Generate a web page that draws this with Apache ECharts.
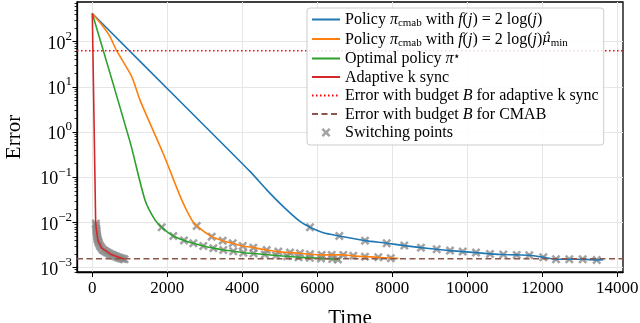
<!DOCTYPE html>
<html><head><meta charset="utf-8">
<script src="https://cdn.jsdelivr.net/npm/echarts@6/dist/echarts.min.js"></script>
<style>html,body{margin:0;padding:0;background:#fff}#c{width:640px;height:323px}</style>
</head><body><div id="c"></div>
<script>
// ---- data ----
const xTicks = [0, 2000, 4000, 6000, 8000, 10000, 12000, 14000];
const yTicks = [1e-3, 1e-2, 1e-1, 1, 10, 100];
const xRange = [-408, 14152];
const yRange = [8.0e-4, 755];

const blueTime  = [0, 2384, 4211, 4651, 5093, 5539, 5805, 6160, 6587, 7272, 7851, 8320, 8765, 9184, 9539, 9877, 10232, 10605, 10960, 11317, 11653, 12027, 12365, 12720, 13077, 13451, 13627];
const blueError = [420, 4.39, 0.133, 0.0525, 0.0224, 0.0105, 0.0078, 0.0059, 0.0050, 0.00395, 0.00347, 0.00307, 0.00277, 0.00255, 0.00238, 0.00226, 0.00215, 0.00201, 0.00195, 0.00191, 0.00188, 0.0017, 0.00153, 0.00153, 0.00153, 0.00148, 0.0015];

const orangeTime  = [0, 293, 472, 650, 1051, 1272, 1893, 2384, 2651, 2784, 3184, 3477, 3744, 4011, 4293, 4651, 4960, 5272, 5539, 5805, 6117, 6384, 6693, 6960, 7272, 7627, 7960, 8160];
const orangeError = [420, 214, 129, 63, 16.8, 5.1, 0.33, 0.0315, 0.0114, 0.00836, 0.00485, 0.00395, 0.00347, 0.00302, 0.00277, 0.00246, 0.00226, 0.00215, 0.00208, 0.00198, 0.00191, 0.00191, 0.00191, 0.00182, 0.00175, 0.0017, 0.00162, 0.0016];

const greenTime  = [0, 1005, 1405, 1672, 1851, 2160, 2445, 2693, 2960, 3227, 3493, 3760, 4027, 4300, 4600, 4900, 5200, 5500, 5800, 6100, 6400, 6600];
const greenError = [420, 0.614, 0.0315, 0.01135, 0.0078, 0.0050, 0.0040, 0.00347, 0.0030, 0.0027, 0.00245, 0.0023, 0.00214, 0.00205, 0.00195, 0.00185, 0.00178, 0.0017, 0.00165, 0.0016, 0.00155, 0.00152];

const redTime  = [0, 90, 110, 150, 250, 500, 860];
const redError = [420, 0.0095, 0.0068, 0.0040, 0.0027, 0.00196, 0.00153];

const budgetAdaptive = 63;
const budgetCmab = 0.00158;

const switchRedTime  = [95, 100, 105, 110, 115, 120, 125, 130, 140, 150, 165, 180, 200, 225, 250, 280, 310, 345, 380, 420, 460, 500, 540, 580, 620, 660, 700, 740, 780, 820, 860];
const switchRedError = [0.0095, 0.0085, 0.0075, 0.0068, 0.0062, 0.0056, 0.0051, 0.0047, 0.0043, 0.0040, 0.0037, 0.0034, 0.0031, 0.0029, 0.0027, 0.0025, 0.0024, 0.0023, 0.0022, 0.00212, 0.00204, 0.00196, 0.0019, 0.00184, 0.00178, 0.00172, 0.00168, 0.00163, 0.00159, 0.00156, 0.00153];
const switchGreenTime  = [1851, 2160, 2445, 2693, 2960, 3227, 3493, 3760, 4027, 4300, 4600, 4900, 5200, 5500, 5800, 6100, 6400, 6550];
const switchGreenError = [0.0078, 0.0050, 0.0040, 0.00347, 0.0030, 0.0027, 0.00245, 0.0023, 0.00214, 0.00205, 0.00195, 0.00185, 0.00178, 0.0017, 0.00165, 0.0016, 0.00155, 0.00152];
const switchOrangeTime  = [2784, 3184, 3477, 3744, 4011, 4293, 4651, 4960, 5272, 5539, 5805, 6117, 6384, 6693, 6960, 7272, 7627, 7960];
const switchOrangeError = [0.00836, 0.00485, 0.00395, 0.00347, 0.00302, 0.00277, 0.00246, 0.00226, 0.00215, 0.00208, 0.00198, 0.00191, 0.00191, 0.00191, 0.00182, 0.00175, 0.0017, 0.00162];
const switchBlueTime  = [5805, 6587, 7272, 7851, 8320, 8765, 9184, 9539, 9877, 10232, 10605, 10960, 11317, 11653, 12027, 12365, 12720, 13077, 13451];
const switchBlueError = [0.0078, 0.0050, 0.00395, 0.00347, 0.00307, 0.00277, 0.00255, 0.00238, 0.00226, 0.00215, 0.00201, 0.00195, 0.00191, 0.00188, 0.0017, 0.00153, 0.00153, 0.00153, 0.00148];

const names = {
  blue: 'Policy pi_cmab with f(j) = 2 log(j)',
  orange: 'Policy pi_cmab with f(j) = 2 log(j) mu_min',
  green: 'Optimal policy pi*',
  red: 'Adaptive k sync',
  dotted: 'Error with budget B for adaptive k sync',
  dashed: 'Error with budget B for CMAB',
  sw: 'Switching points'
};
const legendRich = {
  [names.blue]: '{r|Policy }{i|π}{sub|cmab}{r| with }{i|f}{r|(}{i|j}{r|) = 2 log(}{i|j}{r|)}',
  [names.orange]: '{r|Policy }{i|π}{sub|cmab}{r| with }{i|f}{r|(}{i|j}{r|) = 2 log(}{i|j}{r|)}{mu|μ\u0302}{sub|min}',
  [names.green]: '{r|Optimal policy }{i|π}{sup|⋆}',
  [names.red]: '{r|Adaptive k sync}',
  [names.dotted]: '{r|Error with budget }{i|B}{r| for adaptive k sync}',
  [names.dashed]: '{r|Error with budget }{i|B}{r| for CMAB}',
  [names.sw]: '{r|Switching points}'
};

const zip = (a, b) => a.map((v, i) => [v, b[i]]);
const yMinor = [];
for (let e = -4; e <= 2; e++) for (let m = 2; m <= 9; m++) { const v = m * Math.pow(10, e); if (v >= yRange[0] && v <= yRange[1]) yMinor.push(v); }

const FONT = 'Liberation Serif';
const xPath = 'path://M2,0 L5,3 L8,0 L10,2 L7,5 L10,8 L8,10 L5,7 L2,10 L0,8 L3,5 L0,2 Z';
const fmtPow = v => { const e = Math.round(Math.log10(v)); return '{b|10}{s|' + String(e).replace('-', '−') + '}'; };

const chart = echarts.init(document.getElementById('c'));
const hidden = { color: 'rgba(0,0,0,0)', borderColor: 'rgba(0,0,0,0)', borderWidth: 0 };
const lineBase = { type: 'line', symbol: 'none', showSymbol: false, clip: true, animation: false, itemStyle: hidden };
const legendLine = n => ({ name: n, itemStyle: hidden });
chart.setOption({
  animation: false,
  backgroundColor: '#fff',
  grid: { left: 77, right: 17, top: 2, bottom: 51, show: true, borderColor: '#000', borderWidth: 1.3, outerBoundsMode: 'none', containLabel: false },
  xAxis: {
    type: 'value', min: xRange[0], max: xRange[1],
    name: 'Time', nameLocation: 'middle', nameGap: 36,
    nameTextStyle: { fontFamily: FONT, fontSize: 21, color: '#000' },
    axisLine: { show: true, onZero: false, lineStyle: { color: '#000', width: 1.3 } },
    axisTick: { show: true, customValues: xTicks, length: 5, lineStyle: { color: '#000', width: 1 } },
    axisLabel: { customValues: xTicks, fontFamily: FONT, fontSize: 17, color: '#000', margin: 8, formatter: v => String(v) },
    splitLine: { show: true, lineStyle: { color: '#e6e6e6', width: 1 } }
  },
  yAxis: [{
    type: 'log', logBase: 10, min: yRange[0], max: yRange[1],
    name: 'Error', nameLocation: 'middle', nameGap: 52,
    nameTextStyle: { fontFamily: FONT, fontSize: 21, color: '#000' },
    axisLine: { show: true, onZero: false, lineStyle: { color: '#000', width: 1.3 } },
    axisTick: { show: true, customValues: yTicks, length: 4.5, lineStyle: { color: '#000', width: 1 } },
    axisLabel: { customValues: yTicks, margin: 5, formatter: fmtPow, padding: [0, 0, 5, 0],
      rich: {
        b: { fontFamily: FONT, fontSize: 18, color: '#000', verticalAlign: 'top', lineHeight: 18, padding: [5, 0, 0, 0] },
        s: { fontFamily: FONT, fontSize: 13, color: '#000', verticalAlign: 'top', lineHeight: 13 }
      } },
    splitLine: { show: true, lineStyle: { color: '#e6e6e6', width: 1 } }
  }, {
    type: 'log', logBase: 10, min: yRange[0], max: yRange[1], position: 'left',
    axisLine: { show: false, onZero: false },
    axisTick: { show: true, customValues: yMinor, length: 2.5, lineStyle: { color: '#000', width: 0.8 } },
    axisLabel: { show: false }, splitLine: { show: false }
  }],
  legend: {
    orient: 'vertical', left: 307, top: 8, padding: [4, 5, 4, 4],
    itemWidth: 28, itemHeight: 9, itemGap: 2.5,
    backgroundColor: 'rgba(255,255,255,0.85)', borderColor: '#cccccc', borderWidth: 1, borderRadius: 3,
    data: [legendLine(names.blue), legendLine(names.orange), legendLine(names.green), legendLine(names.red), legendLine(names.dotted), legendLine(names.dashed), { name: names.sw }],
    formatter: n => legendRich[n],
    textStyle: { fontFamily: FONT, fontSize: 16, color: '#000',
      rich: {
        r: { fontFamily: FONT, fontSize: 16, lineHeight: 15, verticalAlign: 'top', color: '#000' },
        i: { fontFamily: FONT, fontSize: 16, lineHeight: 15, verticalAlign: 'top', fontStyle: 'italic', color: '#000' },
        mu: { fontFamily: 'DejaVu Serif', fontSize: 13, lineHeight: 15, verticalAlign: 'top', fontStyle: 'italic', color: '#000', padding: [1, 0, 0, 0] },
        sub: { fontFamily: FONT, fontSize: 11, lineHeight: 10, verticalAlign: 'top', padding: [6, 0, 0, 0], color: '#000' },
        sup: { fontFamily: FONT, fontSize: 12, lineHeight: 11, verticalAlign: 'top', color: '#000' }
      } }
  },
  series: [
    Object.assign({}, lineBase, { name: names.blue, smooth: 0.25, data: zip(blueTime, blueError), lineStyle: { color: '#1f77b4', width: 1.6 } }),
    Object.assign({}, lineBase, { name: names.orange, smooth: 0.25, data: zip(orangeTime, orangeError), lineStyle: { color: '#ff7f0e', width: 1.6 } }),
    Object.assign({}, lineBase, { name: names.green, smooth: 0.25, data: zip(greenTime, greenError), lineStyle: { color: '#2ca02c', width: 1.6 } }),
    Object.assign({}, lineBase, { name: names.red, data: zip(redTime, redError), lineStyle: { color: '#d62728', width: 1.6 } }),
    Object.assign({}, lineBase, { name: names.dotted, data: [[xRange[0], budgetAdaptive], [xRange[1], budgetAdaptive]], lineStyle: { color: '#ff0000', width: 1.5, type: [1.5, 2.5] } }),
    Object.assign({}, lineBase, { name: names.dashed, data: [[xRange[0], budgetCmab], [xRange[1], budgetCmab]], lineStyle: { color: '#8c564b', width: 1.5, type: [6, 3.5] } }),
    { type: 'scatter', name: names.sw, symbol: xPath, symbolSize: 9, animation: false,
      itemStyle: { color: '#8c8c8c' },
      data: [].concat(zip(switchRedTime, switchRedError), zip(switchGreenTime, switchGreenError), zip(switchOrangeTime, switchOrangeError), zip(switchBlueTime, switchBlueError)) }
  ]
});
</script></body></html>
